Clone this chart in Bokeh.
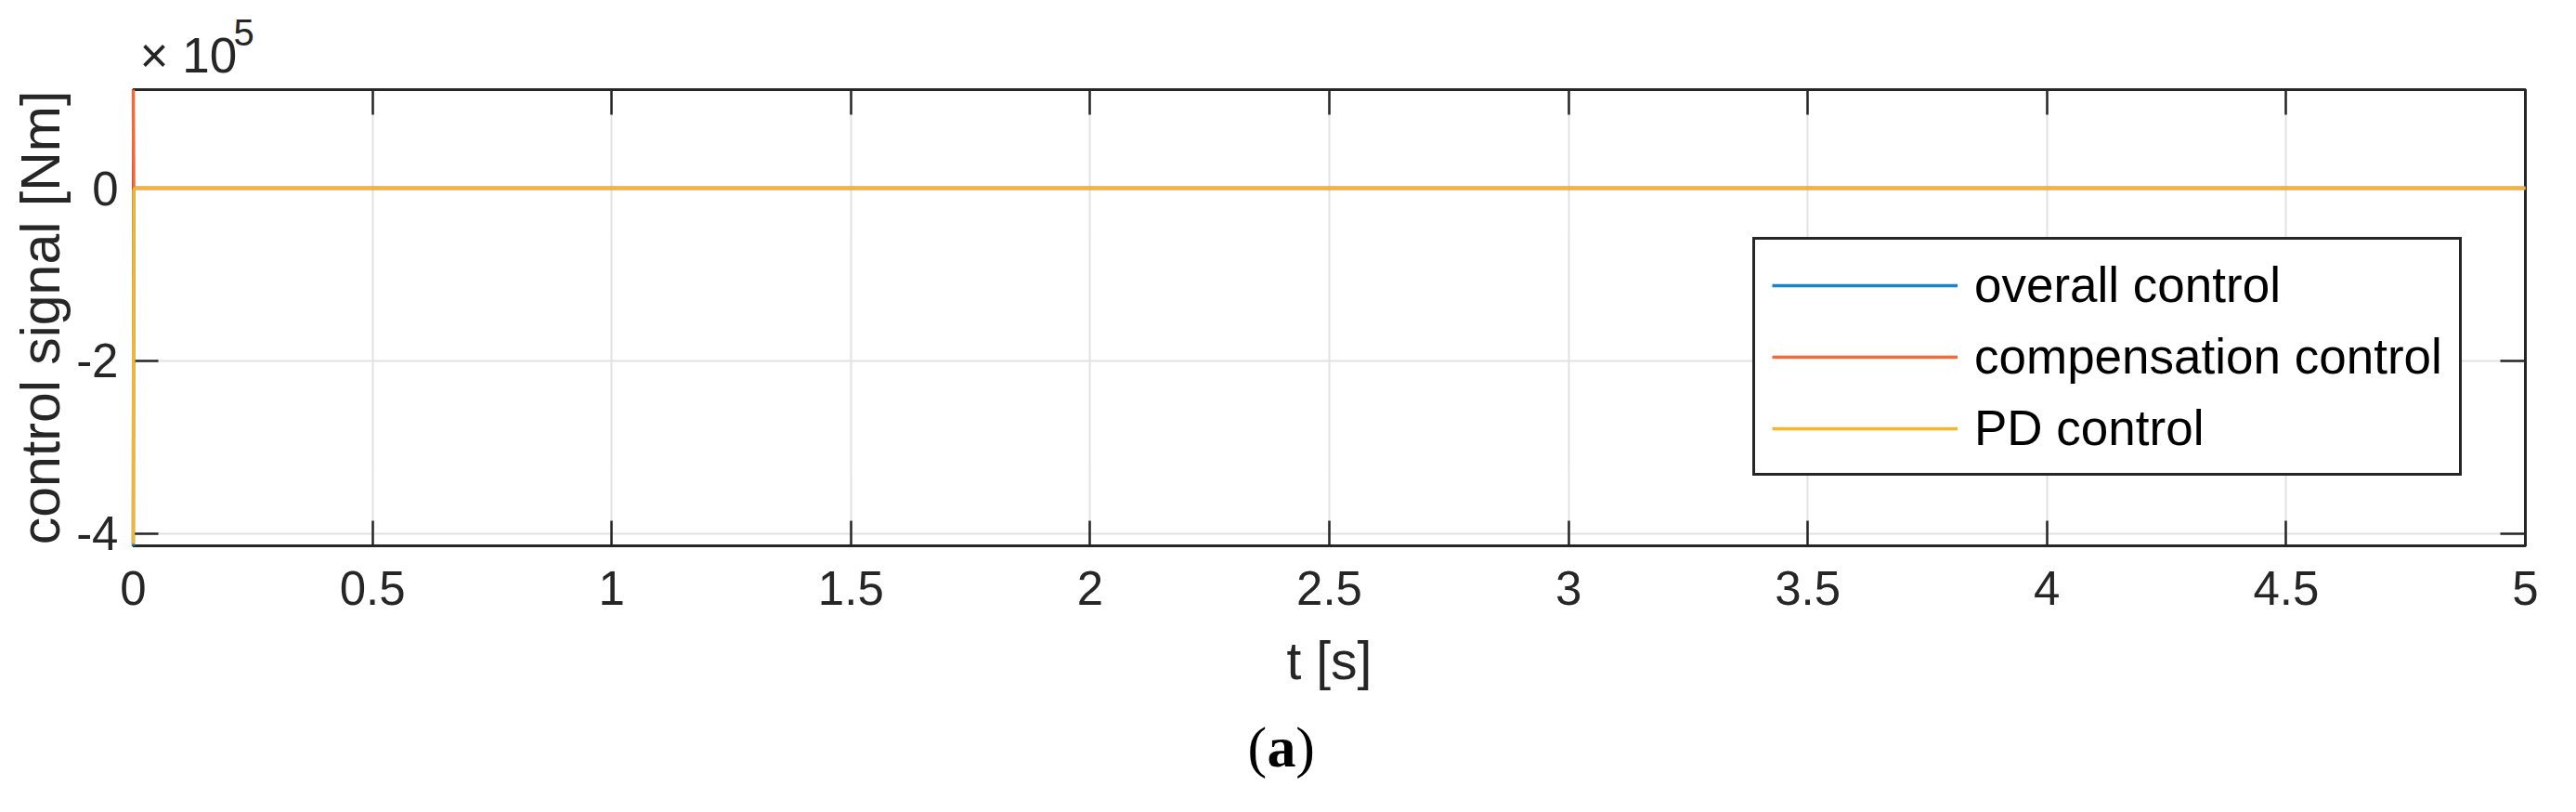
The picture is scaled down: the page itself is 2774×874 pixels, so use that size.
from bokeh.plotting import figure
from bokeh.models import (Range1d, FixedTicker, CustomJSTickFormatter, LinearAxis,
                          Title, Legend, LegendItem)
from bokeh.embed import file_html
from bokeh.resources import INLINE

# ticks
x_ticks = [0, 0.5, 1, 1.5, 2, 2.5, 3, 3.5, 4, 4.5, 5]
y_ticks = [-4e5, -2e5, 0]

# time [s] and control signals [Nm] (spike at start, then ~0)
t = [0.0, 0.001, 0.002, 0.005, 0.01, 5.0]
overall = [-4.143e5, -2.1e3, -150.0, -10.0, 0.0, 0.0]
compensation = [1.142e5, 900.0, 60.0, 5.0, 0.0, 0.0]
pd_control = [-4.12e5, -3.0e3, -200.0, -15.0, 0.0, 0.0]

blue = "#1484cc"
red = "#f26a3c"
yellow = "#f6b52c"
dark = "#262626"
font = "Liberation Sans"
serif = "Liberation Serif"

p = figure(width=2774, height=874, output_backend="svg", toolbar_location=None,
           x_range=Range1d(0, 5),
           y_range=Range1d(min(overall + pd_control), max(compensation)),
           min_border_left=143, min_border_right=55, min_border_top=96,
           min_border_bottom=287,
           x_axis_label="t [s]", y_axis_label="control signal [Nm]")
p.background_fill_color = "white"
p.border_fill_color = "white"
p.outline_line_color = dark
p.outline_line_width = 3

r1 = p.line(t, overall, line_color=blue, line_width=3.5, level="overlay")
r2 = p.line(t, compensation, line_color=red, line_width=3.5, level="overlay")
r3 = p.line(t, pd_control, line_color=yellow, line_width=3.5, level="overlay")

# axes
xt = FixedTicker(ticks=x_ticks)
yt = FixedTicker(ticks=y_ticks)
p.xaxis.ticker = xt
p.yaxis.ticker = yt
p.xgrid.ticker = xt
p.ygrid.ticker = yt
p.xaxis.formatter = CustomJSTickFormatter(code="return tick.toString();")
p.yaxis.formatter = CustomJSTickFormatter(code="return (tick / 1e5).toString();")

for ax in (p.xaxis[0], p.yaxis[0]):
    ax.axis_line_color = dark
    ax.axis_line_width = 3
    ax.major_tick_line_color = dark
    ax.major_tick_line_width = 2.5
    ax.major_tick_in = 27
    ax.major_tick_out = 0
    ax.minor_tick_line_color = None
    ax.major_label_text_font = font
    ax.major_label_text_font_size = "51px"
    ax.major_label_text_color = dark
    ax.axis_label_text_font = font
    ax.axis_label_text_font_style = "normal"
    ax.axis_label_text_color = dark

p.xaxis.axis_label_text_font_size = "57px"
p.yaxis.axis_label_text_font_size = "59px"
p.xaxis.major_label_standoff = 27
p.xaxis.axis_label_standoff = 25
p.yaxis.major_label_standoff = 16
p.yaxis.axis_label_standoff = 2

# box axes on top and right (ticks only)
for side, tk in (("above", xt), ("right", yt)):
    ax = LinearAxis(ticker=tk, formatter=CustomJSTickFormatter(code="return '';"),
                    axis_line_color=dark, axis_line_width=3,
                    major_tick_line_color=dark, major_tick_line_width=2.5,
                    major_tick_in=27, major_tick_out=0, minor_tick_line_color=None,
                    major_label_text_font_size="1px", major_label_standoff=0)
    p.add_layout(ax, side)

p.xgrid.grid_line_color = "#e2e2e2"
p.xgrid.grid_line_width = 2
p.ygrid.grid_line_color = "#e2e2e2"
p.ygrid.grid_line_width = 2

legend = Legend(items=[LegendItem(label="overall control", renderers=[r1]),
                       LegendItem(label="compensation control", renderers=[r2]),
                       LegendItem(label="PD control", renderers=[r3])],
                location=(1744, 75),
                label_text_font=font, label_text_font_size="53px",
                label_text_color="black",
                glyph_width=200, glyph_height=56, label_height=56,
                spacing=16, padding=18, label_standoff=18,
                border_line_color=dark, border_line_width=3, border_line_alpha=1.0,
                background_fill_color="white", background_fill_alpha=1.0)
p.add_layout(legend)

# exponent above the y axis: "x 10" and a raised "5" (overlapping title rows)
p.add_layout(Title(text="× 10", align="left", offset=7, standoff=16,
                   text_font=font, text_font_size="53px", text_font_style="normal",
                   text_color=dark), "above")
p.add_layout(Title(text="5", align="left", offset=108, standoff=-59,
                   text_font=font, text_font_size="40px", text_font_style="normal",
                   text_color=dark), "above")

# caption "(a)" with bold letter
p.add_layout(Title(text="(\u00a0\u00a0)", align="left", offset=1200, standoff=45,
                   text_font=serif, text_font_size="62px", text_font_style="normal",
                   text_color="black"), "below")
p.add_layout(Title(text="a", align="left", offset=1221, standoff=-182,
                   vertical_align="top",
                   text_font=serif, text_font_size="62px", text_font_style="bold",
                   text_color="black"), "below")

open("out.html", "w").write(file_html(p, INLINE))
